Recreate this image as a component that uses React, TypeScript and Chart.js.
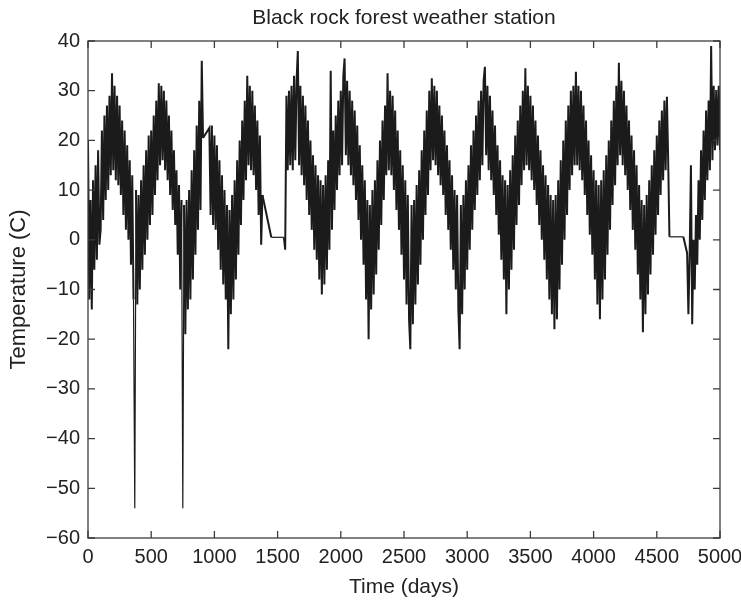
import React, { useEffect, useRef } from "react";
import { Chart, registerables } from "chart.js";

Chart.register(...registerables);

const TITLE = "Black rock forest weather station";
const X_LABEL = "Time (days)";
const Y_LABEL = "Temperature (C)";

const DAY_STEP = 10;
const X_MIN = 0;
const X_MAX = 5000;
const X_TICK_STEP = 500;
const Y_MIN = -60;
const Y_MAX = 40;
const Y_TICK_STEP = 10;

// Temperature (C), one value every 10 days from day 0 to day 5000.
// null = missing days (the plotted line simply joins across them).
const temperatureC: (number | null)[] = [
  20, -12, 8, -14, 12, -6, 15, -4, 18, -1,
  2, 22, 4, 25, 8, 27, 10, 29, 13, 33.5,
  14, 31, 12, 29, 11, 27, 9, 24, 5, 22,
  2, 19, 0, 16, -5, 13, -12, -54, 10, -13,
  9, -10, 12, -6, 15, -3, 18, 0, 21, 3,
  22, 5, 25, 9, 28, 12, 31.5, 15, 31, 16,
  30, 14, 28, 12, 25, 9, 22, 6, 18, 3,
  14, -3, 11, -10, 8, -54, 7, -19, 8, -14,
  10, -12, 14, -8, 18, -3, 23, 2, 28, 6,
  36, 20.5, null, null, null, null, 22.5, 5, 23, 3,
  21, 2, 19, -2, 16, -6, 13, -9, 10, -12,
  7, -22, 6, -15, 9, -12, 12, -8, 16, -3,
  20, 3, 24, 8, 28, 12, 33, 15, 31, 14,
  30, 13, 27, 10, 24, 5, 21, -1, 9, null,
  null, null, null, null, null, 0.5, 0.5, 0.5, 0.5, 0.5,
  0.5, 0.5, 0.5, 0.5, 0.5, 0.5, -2, 29, 14, 30,
  15, 31, 14, 33, 16, 32, 38, 15, 31, 13,
  29, 11, 27, 8, 24, 5, 20, 2, 17, -2,
  15, -4, 13, -8, 12, -11, 11, -9, 13, -6,
  16, -2, 34, 2, 22, 6, 25, 10, 28, 13,
  30, 15, 33, 36.5, 17, 32, 15, 30, 13, 28,
  11, 26, 8, 23, 4, 19, 0, 15, -5, 12,
  -12, 8, -20, 7, -14, 10, -11, 12, -7, 16,
  -2, 20, 3, 24, 8, 27, 13, 33.5, 14, 30,
  13, 29, 10, 26, 6, 22, 2, 18, -3, 15,
  -8, 12, -13, 9, -16, -22, 7, -17, 8, -13,
  11, -9, 14, -5, 18, 0, 22, 5, 26, 9,
  30, 14, 32.5, 16, 31, 15, 30, 13, 27, 11,
  25, 9, 22, 5, 19, 2, 16, -2, 13, -6,
  10, -10, 9, -14, -22, 7, -15, 9, -10, 12,
  -6, 15, -2, 19, 2, 22, 6, 25, 9, 28,
  12, 30, 15, 32, 34.8, 17, 31, 14, 29, 12,
  26, 9, 23, 5, 19, 1, 16, -4, 13, -8,
  12, -15, 11, -10, 14, -6, 17, -2, 21, 3,
  24, 7, 27, 11, 30, 14, 34.5, 15, 31, 14,
  29, 12, 27, 10, 24, 7, 21, 3, 18, 0,
  15, -4, 13, -8, 11, -12, 9, -15, 8, -18,
  9, -16, 12, -10, 16, -5, 20, 0, 24, 5,
  27, 10, 30, 13, 31, 15, 33.8, 15, 31, 14,
  30, 12, 27, 9, 24, 5, 20, 1, 17, -3,
  14, -8, 12, -13, 11, -16, 12, -12, 14, -8,
  17, -3, 20, 2, 24, 7, 28, 11, 31, 15,
  35.6, 17, 32, 15, 30, 13, 27, 10, 24, 6,
  21, 2, 18, -2, 15, -7, 11, -12, 8, -18.6,
  7, -15, 9, -11, 12, -7, 15, -3, 18, 1,
  21, 5, 24, 9, 26, 12, 28, 14, 28.8, 16,
  0.6, 0.6, 0.6, 0.6, 0.6, 0.6, 0.6, 0.6, 0.6, 0.6,
  0.6, 0.6, null, null, -2.7, -15, -3, 15, -17, 0,
  -10, 5, -5, 12, 0, 18, 4, 22, 8, 26,
  12, 28, 14, 39, 16, 31, 18, 30, 19, 31,
  18,
];

const FONT = "'Liberation Sans', Arial, Helvetica, sans-serif";
const TEXT_COLOR = "#222222";
const AXIS_COLOR = "#3c3c3c";
const LINE_COLOR = "#1b1b1b";

const matlabAxes = {
  id: "matlabAxes",
  afterDraw(chart: any) {
    const { ctx, chartArea, scales } = chart;
    const { left, right, top, bottom } = chartArea;
    const len = 7;
    ctx.save();
    ctx.strokeStyle = AXIS_COLOR;
    ctx.lineWidth = 1.3;
    ctx.strokeRect(left, top, right - left, bottom - top);
    ctx.beginPath();
    scales.x.ticks.forEach((t: any) => {
      const px = scales.x.getPixelForValue(t.value);
      ctx.moveTo(px, bottom);
      ctx.lineTo(px, bottom - len);
      ctx.moveTo(px, top);
      ctx.lineTo(px, top + len);
    });
    scales.y.ticks.forEach((t: any) => {
      const py = scales.y.getPixelForValue(t.value);
      ctx.moveTo(left, py);
      ctx.lineTo(left + len, py);
      ctx.moveTo(right, py);
      ctx.lineTo(right - len, py);
    });
    ctx.stroke();
    // title centred over the plot box
    ctx.fillStyle = TEXT_COLOR;
    ctx.font = `21px ${FONT}`;
    ctx.textAlign = "center";
    ctx.textBaseline = "middle";
    ctx.fillText(TITLE, (left + right) / 2, 18.5);
    ctx.restore();
  },
};

export default function App() {
  const canvasRef = useRef<HTMLCanvasElement | null>(null);

  useEffect(() => {
    const canvas = canvasRef.current;
    if (!canvas) return;
    const points = temperatureC.map((t, i) => ({ x: i * DAY_STEP, y: t }));
    const thin = (c: any) =>
      c.p1DataIndex - c.p0DataIndex > 1 ||
      c.p0.parsed.y < -30 ||
      c.p1.parsed.y < -30 ||
      c.p0.parsed.y === c.p1.parsed.y;
    const chart = new Chart(canvas, {
      type: "line",
      data: {
        datasets: [
          {
            data: points as any,
            borderColor: LINE_COLOR,
            borderWidth: 2,
            pointRadius: 0,
            tension: 0,
            spanGaps: true,
            fill: false,
            segment: {
              borderWidth: (c: any) => (thin(c) ? 1.2 : 2),
            },
          } as any,
        ],
      },
      options: {
        animation: false,
        responsive: false,
        devicePixelRatio: 1,
        events: [],
        layout: { padding: { left: 0, top: 41, right: 21, bottom: 0 } },
        plugins: {
          legend: { display: false },
          tooltip: { enabled: false },
          title: { display: false },
        },
        scales: {
          x: {
            type: "linear",
            min: X_MIN,
            max: X_MAX,
            grid: { display: false, drawTicks: false },
            border: { display: false },
            ticks: {
              stepSize: X_TICK_STEP,
              color: TEXT_COLOR,
              font: { family: FONT, size: 20 },
              padding: 7,
              maxRotation: 0,
              autoSkip: false,
              callback: (v: any) => String(v),
            },
            title: {
              display: true,
              text: X_LABEL,
              color: TEXT_COLOR,
              font: { family: FONT, size: 21 },
              padding: { top: 0, bottom: 0 },
            },
            afterFit(scale: any) {
              scale.height = 62;
              scale.paddingLeft = 0;
              scale.paddingRight = 0;
            },
          },
          y: {
            type: "linear",
            min: Y_MIN,
            max: Y_MAX,
            grid: { display: false, drawTicks: false },
            border: { display: false },
            ticks: {
              stepSize: Y_TICK_STEP,
              color: TEXT_COLOR,
              font: { family: FONT, size: 20 },
              padding: 8,
              callback: (v: any) => (Number(v) < 0 ? "\u2212" + Math.abs(Number(v)) : String(v)),
            },
            title: {
              display: true,
              text: Y_LABEL,
              color: TEXT_COLOR,
              font: { family: FONT, size: 22 },
              padding: { top: 6, bottom: 0 },
            },
            afterFit(scale: any) {
              scale.width = 88;
              scale.paddingTop = 0;
              scale.paddingBottom = 0;
            },
          },
        },
      },
      plugins: [matlabAxes],
    });
    return () => chart.destroy();
  }, []);

  return (
    <div style={{ position: "absolute", left: 0, top: 0, width: 741, height: 600, background: "#fff" }}>
      <canvas ref={canvasRef} width={741} height={600} style={{ width: 741, height: 600, display: "block" }} />
    </div>
  );
}
